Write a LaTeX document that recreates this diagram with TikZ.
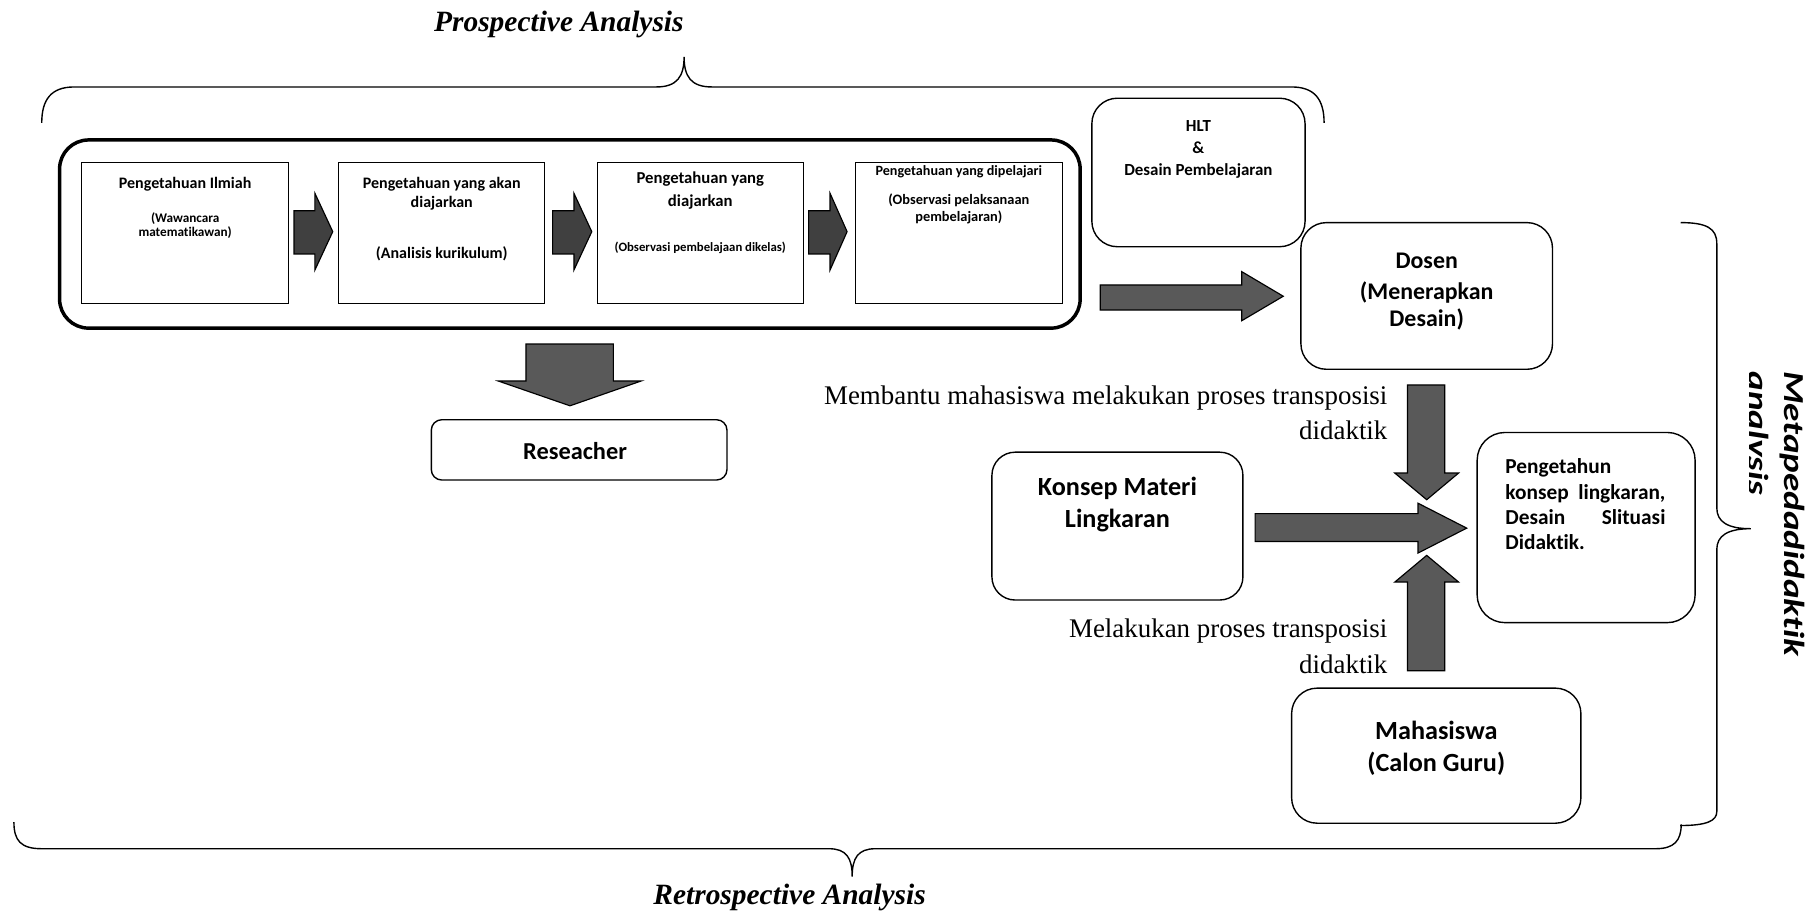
\documentclass[tikz,border=0pt]{standalone}
\usepackage{fontspec}
\setmainfont{Liberation Serif}
\newfontfamily\calfont[Ligatures={NoCommon,NoContextual}]{Carlito}
\definecolor{arrdark}{RGB}{64,64,64}
\definecolor{arrgray}{RGB}{89,89,89}
\newcommand\cbf[1]{\calfont\bfseries\fontsize{#1}{#1}\selectfont}
\newcommand\tms[1]{\rmfamily\fontsize{#1}{#1}\selectfont}
\begin{document}
\begin{tikzpicture}[x=0.5pt,y=-0.5pt,
  sqbox/.style={draw,line width=0.45pt,inner sep=0,minimum width=89pt,minimum height=60.8pt},
  rbox/.style={draw,line width=0.6pt,inner sep=0,rounded corners=11pt},
  txt/.style={inner sep=0,anchor=base},
  blk/.style={draw=black,line width=0.5pt,fill=arrgray,line join=miter},
  brace/.style={draw,line width=0.6pt}
]
\fill[white] (0,0) rectangle (1568,787);
\useasboundingbox (0,0) rectangle (1568,787);

% headings
\node[txt,font={\tms{12.7}\bfseries\itshape}] (prosptitle) at (482,27.5) {Prospective Analysis};
\node[txt,font={\tms{12.7}\bfseries\itshape}] (retrotitle) at (681,780) {Retrospective Analysis};

% top brace
\draw[brace] (36,106) .. controls (36,86) and (44,75) .. (64,75) -- (566,75)
  .. controls (584,75) and (590,66) .. (590,49)
  .. controls (590,66) and (596,75) .. (614,75) -- (1114,75)
  .. controls (1134,75) and (1142,86) .. (1142,106);
% bottom brace
\draw[brace] (12,709) .. controls (12,725) and (18,732) .. (36,732) -- (715,732)
  .. controls (730,732) and (735,740) .. (735,756)
  .. controls (735,740) and (740,732) .. (755,732) -- (1428,732)
  .. controls (1444,732) and (1450,725) .. (1450,711);
% right brace
\draw[brace] (1449.6,192) .. controls (1472,192) and (1480.7,197) .. (1480.7,210) -- (1480.7,438)
  .. controls (1480.7,450) and (1490,456) .. (1510,456)
  .. controls (1490,456) and (1480.7,462) .. (1480.7,474) -- (1480.7,700)
  .. controls (1480.7,708) and (1472,712) .. (1449,712);

% right label
\node[rotate=-90,anchor=base west,inner sep=0,font={\calfont\bfseries\itshape\fontsize{12.5}{12.5}\selectfont}] (meta1) at (1539,320) {\scalebox{1.28}[1]{Metapedadidaktik}};
\begin{scope}
\clip (1509,300) rectangle (1568,460);
\node[rotate=-90,anchor=base west,inner sep=0,font={\calfont\bfseries\itshape\fontsize{12.5}{12.5}\selectfont}] (meta2) at (1508,320) {\scalebox{1.28}[1]{analysis}};
\end{scope}

% big frame
\node[draw,line width=1.5pt,rounded corners=12.5pt,minimum width=440.1pt,minimum height=81.15pt,inner sep=0] (prosp) at (491.5,201.85) {};

\node[sqbox] (b1) at (159.7,200.8) {};
\node[sqbox] (b2) at (381,200.8) {};
\node[sqbox] (b3) at (604,200.8) {};
\node[sqbox] (b4) at (827,200.8) {};

\node[txt,font={\cbf{6.9}}] (b1a) at (159.7,163) {Pengetahuan Ilmiah};
\node[txt,font={\cbf{5.7}}] (b1b) at (159.7,192) {(Wawancara};
\node[txt,font={\cbf{5.7}}] (b1c) at (159.7,204) {matematikawan)};

\node[txt,font={\cbf{6.9}}] (b2a) at (381,163) {Pengetahuan yang akan};
\node[txt,font={\cbf{6.9}}] (b2b) at (381,179) {diajarkan};
\node[txt,font={\cbf{6.9}}] (b2c) at (381,223) {(Analisis kurikulum)};

\node[txt,font={\cbf{7.2}}] (b3a) at (604,158) {Pengetahuan yang};
\node[txt,font={\cbf{7.2}}] (b3b) at (604,178) {diajarkan};
\node[txt,font={\cbf{5.5}}] (b3c) at (604,216.7) {(Observasi pembelajaan dikelas)};

\node[txt,font={\cbf{6.1}}] (b4a) at (827,151) {Pengetahuan yang dipelajari};
\node[txt,font={\cbf{6.2}}] (b4b) at (827,176) {(Observasi pelaksanaan};
\node[txt,font={\cbf{6.2}}] (b4c) at (827,191) {pembelajaran)};

% small arrows
\draw[blk,fill=arrdark] (253.6,181.7) -- (271.6,181.7) -- (271.6,166.7) -- (287,199.8) -- (271.6,232.9) -- (271.6,219) -- (253.6,219) -- cycle;
\draw[blk,fill=arrdark] (476.6,181.7) -- (495,181.7) -- (495,166.7) -- (510.4,199.8) -- (495,232.9) -- (495,219) -- (476.6,219) -- cycle;
\draw[blk,fill=arrdark] (697.4,181.7) -- (715.9,181.7) -- (715.9,166.7) -- (730.6,199.8) -- (715.9,232.9) -- (715.9,219) -- (697.4,219) -- cycle;

% HLT
\node[rbox,minimum width=91.95pt,minimum height=64.05pt] (hlt) at (1033.65,148.75) {};
\node[txt,font={\cbf{7.3}}] (hlta) at (1033.6,113) {HLT};
\node[txt,font={\cbf{7.3}}] (hltb) at (1033.6,132) {\&};
\node[txt,font={\cbf{7.3}}] (hltc) at (1033.6,151) {Desain Pembelajaran};

% Dosen
\node[rbox,minimum width=108.5pt,minimum height=63.25pt] (dosen) at (1230.5,255.25) {};
\node[txt,font={\cbf{10.3}}] (dosa) at (1230.5,232) {Dosen};
\node[txt,font={\cbf{10.3}}] (dosb) at (1230.5,258) {(Menerapkan};
\node[txt,font={\cbf{10.3}}] (dosc) at (1230.5,282) {Desain)};

% Reseacher
\node[rbox,rounded corners=4.5pt,minimum width=127.5pt,minimum height=26pt] (res) at (499.5,388) {};
\node[txt,font={\cbf{10.5}}] (rest) at (496,396) {Reseacher};

% Konsep
\node[rbox,rounded corners=10pt,minimum width=108.25pt,minimum height=63.75pt] (konsep) at (963.75,453.75) {};
\node[txt,font={\cbf{11.3}}] (kona) at (963.75,427) {Konsep Materi};
\node[txt,font={\cbf{11.3}}] (konb) at (963.75,455) {Lingkaran};

% Pengetahun
\node[rbox,rounded corners=12pt,minimum width=94pt,minimum height=82pt] (peng) at (1368,455) {};
\node[txt,anchor=base west,font={\cbf{9.2}}] (pga) at (1298,408) {Pengetahun};
\node[txt,anchor=base west,font={\cbf{9.2}}] (pgb) at (1298,430.5) {\makebox[69pt][s]{konsep lingkaran,}};
\node[txt,anchor=base west,font={\cbf{9.2}}] (pgc) at (1298,452.5) {\makebox[69pt][s]{Desain Slituasi}};
\node[txt,anchor=base west,font={\cbf{9.2}}] (pgd) at (1298,473.5) {Didaktik.};

% Mahasiswa
\node[rbox,minimum width=124.75pt,minimum height=58.25pt] (maha) at (1238.75,651.75) {};
\node[txt,font={\cbf{11.3}}] (maa) at (1238.75,638) {Mahasiswa};
\node[txt,font={\cbf{11.3}}] (mab) at (1238.75,665) {(Calon Guru)};

% Times labels
\node[txt,anchor=base east,font={\tms{11.6}}] (lab1a) at (1197,349) {Membantu mahasiswa melakukan proses transposisi};
\node[txt,anchor=base east,font={\tms{11.6}}] (lab1b) at (1197,379) {didaktik};
\node[txt,anchor=base east,font={\tms{11.6}}] (lab2a) at (1197,550) {Melakukan proses transposisi};
\node[txt,anchor=base east,font={\tms{11.6}}] (lab2b) at (1197,580.5) {didaktik};

% big arrows
\draw[blk] (949,245.8) -- (1071,245.8) -- (1071,234.3) -- (1106.8,255.5) -- (1071,276.6) -- (1071,267.4) -- (949,267.4) -- cycle;
\draw[blk] (453.6,296.7) -- (529,296.7) -- (529,328.6) -- (553,328.6) -- (491.6,350) -- (429.7,328.6) -- (453.6,328.6) -- cycle;
\draw[blk] (1214,332) -- (1246,332) -- (1246,408) -- (1258,408) -- (1230.5,431) -- (1203,408) -- (1214,408) -- cycle;
\draw[blk] (1082.5,443) -- (1223,443) -- (1223,434) -- (1265,455.5) -- (1223,477) -- (1223,467) -- (1082.5,467) -- cycle;
\draw[blk] (1214,578.5) -- (1246,578.5) -- (1246,502) -- (1258,502) -- (1230.5,479) -- (1203,502) -- (1214,502) -- cycle;
\end{tikzpicture}
\end{document}
